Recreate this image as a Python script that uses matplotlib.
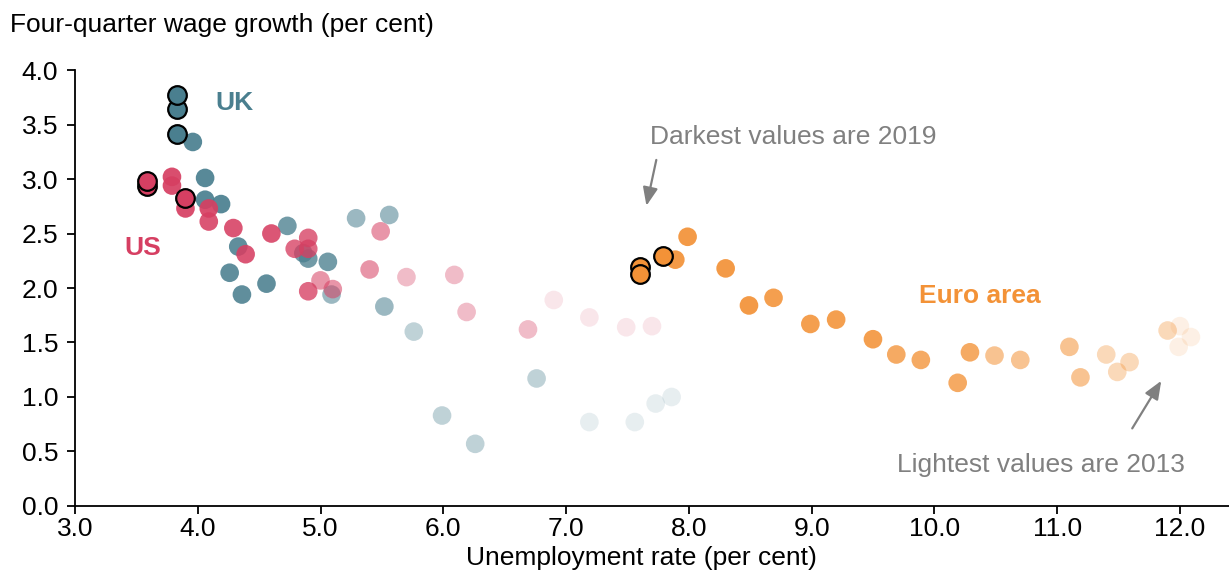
import matplotlib
matplotlib.use("Agg")
import matplotlib.pyplot as plt
from matplotlib.colors import to_rgba

plt.rcParams['font.family'] = ['Liberation Sans', 'DejaVu Sans']

# Chronological order (oldest first), 2013Q1 onwards
uk_unemp = [7.86, 7.73, 7.56, 7.19, 6.76, 6.26, 5.99, 5.76, 5.52, 5.56, 5.29, 5.09,
            5.06, 4.90, 4.86, 4.73, 4.56, 4.36, 4.26, 4.33, 4.19, 4.06, 4.06, 3.96,
            3.83, 3.83, 3.83]
uk_wage = [1.00, 0.94, 0.77, 0.77, 1.17, 0.57, 0.83, 1.60, 1.83, 2.67, 2.64, 1.94,
           2.24, 2.27, 2.32, 2.57, 2.04, 1.94, 2.14, 2.38, 2.77, 2.81, 3.01, 3.34,
           3.41, 3.64, 3.77]
uk_year = [2013]*4 + [2014]*4 + [2015]*4 + [2016]*4 + [2017]*4 + [2018]*4 + [2019]*3

us_unemp = [7.70, 7.49, 7.19, 6.90, 6.69, 6.19, 6.09, 5.70, 5.49, 5.40, 5.10, 5.00,
            4.90, 4.90, 4.90, 4.79, 4.60, 4.39, 4.29, 4.09, 4.09, 3.90, 3.79, 3.79,
            3.90, 3.59, 3.59]
us_wage = [1.65, 1.64, 1.73, 1.89, 1.62, 1.78, 2.12, 2.10, 2.52, 2.17, 1.99, 2.07,
           1.97, 2.36, 2.46, 2.36, 2.50, 2.31, 2.55, 2.61, 2.73, 2.73, 2.94, 3.02,
           2.83, 2.94, 2.98]
us_year = [2013]*4 + [2014]*4 + [2015]*4 + [2016]*4 + [2017]*4 + [2018]*4 + [2019]*3

ea_unemp = [12.00, 12.09, 11.99, 11.90, 11.59, 11.49, 11.40, 11.19, 11.10, 10.70, 10.49,
            10.29, 10.19, 9.89, 9.69, 9.50, 9.20, 8.99, 8.69, 8.49, 8.30, 7.99, 7.89,
            7.79, 7.60, 7.60]
ea_wage = [1.65, 1.55, 1.46, 1.61, 1.32, 1.23, 1.39, 1.18, 1.46, 1.34, 1.38,
           1.41, 1.13, 1.34, 1.39, 1.53, 1.71, 1.67, 1.91, 1.84, 2.18, 2.47, 2.26,
           2.29, 2.19, 2.13]
ea_year = [2013]*3 + [2014]*4 + [2015]*4 + [2016]*4 + [2017]*4 + [2018]*4 + [2019]*3

year_alpha = {2013: 0.13, 2014: 0.35, 2015: 0.55, 2016: 0.78, 2017: 0.88, 2018: 0.92, 2019: 1.0}

UK_COL = '#4a7f8f'
US_COL = '#d63f62'
EA_COL = '#f39237'
FS = 19

fig = plt.figure(figsize=(12.29, 5.74), dpi=100)
ax = fig.add_axes([0.061, 0.1185, 0.939, 0.7595])

def draw(xs, ys, years, col):
    for x, y, yr in zip(xs, ys, years):
        c = to_rgba(col, year_alpha[yr])
        if yr == 2019:
            ax.scatter([x], [y], s=180, color=col, edgecolors='black', linewidths=1.6, zorder=4)
        else:
            ax.scatter([x], [y], s=180, color=c, edgecolors='none', zorder=3)

draw(ea_unemp, ea_wage, ea_year, EA_COL)
draw(uk_unemp, uk_wage, uk_year, UK_COL)
draw(us_unemp, us_wage, us_year, US_COL)

ax.set_xlim(3.0, 12.4)
ax.set_ylim(0.0, 4.0)
xt = [3, 4, 5, 6, 7, 8, 9, 10, 11, 12]
yt = [0, 0.5, 1.0, 1.5, 2.0, 2.5, 3.0, 3.5, 4.0]
ax.set_xticks(xt)
ax.set_xticklabels([f'{v:.1f}' for v in xt])
ax.set_yticks(yt)
ax.set_yticklabels([f'{v:.1f}' for v in yt])
ax.tick_params(axis='both', labelsize=FS, length=6, width=1.3, color='black', direction='out')
ax.tick_params(axis='x', pad=2)
ax.tick_params(axis='y', pad=6)
for s in ['top', 'right']:
    ax.spines[s].set_visible(False)
for s in ['left', 'bottom']:
    ax.spines[s].set_linewidth(1.3)
    ax.spines[s].set_color('black')

fig.text(0.008, 0.956, 'Four-quarter wage growth (per cent)', fontsize=FS, va='center', ha='left')
fig.text(0.522, 0.028, 'Unemployment rate (per cent)', fontsize=FS, va='center', ha='center')

ax.text(4.30, 3.70, 'UK', color=UK_COL, fontsize=FS, fontweight='bold', ha='center', va='center')
ax.text(3.55, 2.37, 'US', color=US_COL, fontsize=FS, fontweight='bold', ha='center', va='center')
ax.text(10.37, 1.93, 'Euro area', color=EA_COL, fontsize=FS, fontweight='bold', ha='center', va='center')

grey = '#808080'
arrow_style = dict(arrowstyle='-|>,head_length=1.1,head_width=0.45', color=grey, lw=1.6)
ax.text(8.85, 3.385, 'Darkest values are 2019', color=grey, fontsize=FS, ha='center', va='center')
ax.annotate('', xy=(7.65, 2.73), xytext=(7.74, 3.20), arrowprops=arrow_style)
ax.text(10.87, 0.376, 'Lightest values are 2013', color=grey, fontsize=FS, ha='center', va='center')
ax.annotate('', xy=(11.86, 1.17), xytext=(11.6, 0.69), arrowprops=arrow_style)

fig.savefig('out.png', dpi=100)
